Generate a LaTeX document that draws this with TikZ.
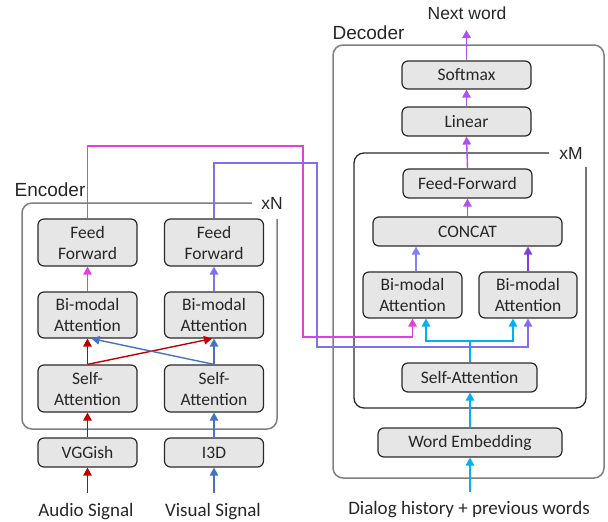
\documentclass[tikz,border=0pt]{standalone}
\usepackage{fontspec}
\setmainfont{Carlito}
\newfontfamily\arialfont{Liberation Sans}
\usetikzlibrary{arrows.meta,calc}
\definecolor{audiored}{HTML}{C00000}
\definecolor{visblue}{HTML}{4472C4}
\definecolor{pinkln}{HTML}{E040E0}
\definecolor{lavln}{HTML}{8070F0}
\definecolor{cyanln}{HTML}{00B0F0}
\definecolor{violetln}{HTML}{B050F0}
\definecolor{periln}{HTML}{8080FF}
\definecolor{purpln}{HTML}{7F3FE0}
\definecolor{boxfill}{HTML}{E6E6E6}
\definecolor{boxline}{HTML}{2A2A2A}
\definecolor{frameln}{HTML}{7F7F7F}
\tikzset{
  blk/.style={draw=boxline, fill=boxfill, line width=1.2pt, rounded corners=6pt,
    inner sep=0pt, align=center, text=black!85, font=\fontsize{17.5}{21}\selectfont},
  tallbox/.style={blk, minimum width=99pt, minimum height=47pt},
  flatbox/.style={blk, minimum height=29pt},
  lbl/.style={inner sep=0pt, text=black!85, font=\fontsize{19}{22}\selectfont},
  ttl/.style={inner sep=0pt, text=black!85, font=\arialfont\fontsize{19}{22}\selectfont},
  rep/.style={inner sep=0pt, text=black!85, font=\arialfont\fontsize{17.5}{20}\selectfont},
  arr/.style={line width=1.4pt, -{Triangle[width=8.5pt,length=8pt]}},
  frame/.style={draw=frameln, line width=1.5pt, rounded corners=10pt},
}
\begin{document}
\begin{tikzpicture}[x=1pt,y=-1pt]
\useasboundingbox (0,0) rectangle (608,522);

% ---------------- encoder ----------------
\draw[frame] (252,203) -- (22,203) -- (22,429) -- (277,429) -- (277,219);
\node[ttl] (enctitle) at (50,190) {Encoder};
\node[rep] (xn) at (272,203) {xN};

\node[tallbox] (encFFL) at (87.5,242.5) {Feed\\Forward};
\node[tallbox] (encFFR) at (214,242.5) {Feed\\Forward};
\node[tallbox, minimum height=46pt] (encBML) at (87.5,315) {Bi-modal\\Attention};
\node[tallbox, minimum height=46pt] (encBMR) at (214,315) {Bi-modal\\Attention};
\node[tallbox] (encSAL) at (87.5,388.5) {Self-\\Attention};
\node[tallbox] (encSAR) at (214,388.5) {Self-\\Attention};
\node[flatbox, minimum width=99pt] (vgg) at (87.5,452.5) {VGGish};
\node[flatbox, minimum width=99pt] (itd) at (214,452.5) {I3D};
\node[lbl] (audio) at (86,512) {Audio Signal};
\node[lbl] (visual) at (213,512) {Visual Signal};
\coordinate (audiosrc) at (87.5,493);
\coordinate (visualsrc) at (214,493);

\draw[arr, audiored] (audiosrc) -- (vgg);
\draw[arr, visblue] (visualsrc) -- (itd);
\draw[arr, audiored] (vgg) -- (encSAL);
\draw[arr, visblue] (itd) -- (encSAR);
\draw[arr, audiored] (encSAL) -- (encBML);
\draw[arr, visblue] (encSAR) -- (encBMR);
\draw[arr, audiored] (encSAL.north) -- ($(encBMR.south)+(-2,0)$);
\draw[arr, visblue] (encSAR.north) -- ($(encBML.south)+(4,0)$);
\draw[arr, pinkln] (encBML) -- (encFFL);
\draw[arr, lavln] (encBMR) -- (encFFR);

% ---------------- decoder ----------------
\draw[frame] (333,45) rectangle (604,478);
\node[ttl] (dectitle) at (368.5,33) {Decoder};
\draw[draw=boxline, line width=1.3pt, rounded corners=10pt]
  (549,153) -- (354,153) -- (354,408) -- (586,408) -- (586,167);
\node[rep] (xm) at (571,153) {xM};

\node[flatbox, minimum width=129pt, minimum height=28pt] (softmax) at (466.5,75) {Softmax};
\node[flatbox, minimum width=129pt] (linear) at (466.5,121.5) {Linear};
\node[flatbox, minimum width=129pt] (decFF) at (467.5,183.5) {Feed-Forward};
\node[flatbox, minimum width=189pt] (concat) at (467.5,231.5) {CONCAT};
\node[tallbox, minimum height=46pt] (decBML) at (412.5,295) {Bi-modal\\Attention};
\node[tallbox, minimum width=98pt, minimum height=46pt] (decBMR) at (528,295) {Bi-modal\\Attention};
\node[flatbox, minimum width=135pt] (decSA) at (469.5,377.5) {Self-Attention};
\node[flatbox, minimum width=184pt] (wordemb) at (470,442.5) {Word Embedding};
\node[rep] (nextword) at (467,13) {Next word};
\node[lbl] (dialog) at (469,510) {Dialog history + previous words};
\coordinate (nextend) at (466.5,30);
\coordinate (dialogsrc) at (470,492);

\draw[arr, cyanln] (dialogsrc) -- (wordemb.south);
\draw[arr, cyanln] (wordemb.north) -- (wordemb.north |- decSA.south);
\coordinate (split) at (470,341);
\draw[cyanln, line width=1.4pt] (decSA.north -| split) -- (split);
\draw[arr, cyanln] (split) -| ($(decBML.south)+(13.5,0)$);
\draw[arr, cyanln] (split) -| ($(decBMR.south)+(-15,0)$);
\draw[arr, periln] ($(decBML.north)+(3.5,0)$) -- ($(concat.south -| decBML.north)+(3.5,0)$);
\draw[arr, purpln] (decBMR.north) -- (concat.south -| decBMR.north);
\draw[arr, violetln] (concat.north) -- (decFF.south);
\draw[arr, violetln] (decFF.north) -- (linear.south);
\draw[arr, violetln] (linear.north) -- (softmax.south);
\draw[arr, violetln] (softmax.north) -- (nextend);

% ---------------- cross links ----------------
\draw[arr, pinkln] (encFFL.north) |- (303,146) -- (303,337) -| (decBML.south);
\draw[arr, lavln] (encFFR.north) |- (317,163) -- (317,347) -| (decBMR.south);
\end{tikzpicture}
\end{document}
